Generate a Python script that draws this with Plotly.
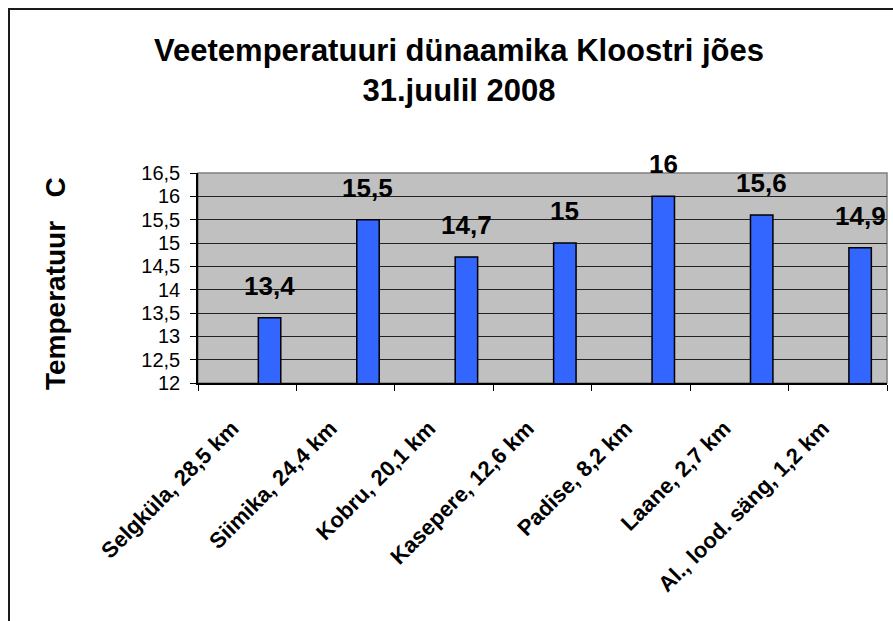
import plotly.graph_objects as go

categories = ["Selgküla, 28,5 km", "Siimika, 24,4 km", "Kobru, 20,1 km",
              "Kasepere, 12,6 km", "Padise, 8,2 km", "Laane, 2,7 km",
              "Al., lood. säng, 1,2 km"]
temperatures = [13.4, 15.5, 14.7, 15.0, 16.0, 15.6, 14.9]
y_ticks = [12, 12.5, 13, 13.5, 14, 14.5, 15, 15.5, 16, 16.5]

FONT = "Liberation Sans, Arial, sans-serif"
BAR_W = 0.228
BAR_OFF = 0.113

FIG_W, FIG_H = 893, 621
PLOT_L, PLOT_R, PLOT_T, PLOT_B = 198, 887, 173, 383  # pixels
PW, PH = PLOT_R - PLOT_L, PLOT_B - PLOT_T


def fmt(v):
    return ("%g" % v).replace(".", ",")


fig = go.Figure()
fig.add_trace(go.Bar(
    x=categories, y=temperatures,
    width=BAR_W, offset=BAR_OFF,
    marker=dict(color="#3366FF", line=dict(color="#000000", width=1.5)),
    hoverinfo="x+y",
))

annotations = []
for i, v in enumerate(temperatures):
    annotations.append(dict(
        x=i + BAR_OFF + BAR_W / 2, y=v, xref="x", yref="y",
        text="<b>%s</b>" % fmt(v), showarrow=False,
        yanchor="bottom", xanchor="center", yshift=15,
        font=dict(family=FONT, size=26, color="#000000"),
    ))

annotations.append(dict(
    x=(55 - PLOT_L) / PW, y=(PLOT_B - 284) / PH, xref="paper", yref="paper",
    text="<b>Temperatuur\u00a0\u00a0\u00a0C</b>", textangle=-90, showarrow=False,
    xanchor="center", yanchor="middle",
    font=dict(family=FONT, size=28, color="#000000"),
))

fig.update_layout(
    width=FIG_W, height=FIG_H,
    margin=dict(l=PLOT_L, r=FIG_W - PLOT_R, t=PLOT_T, b=FIG_H - PLOT_B),
    paper_bgcolor="#FFFFFF",
    plot_bgcolor="#C0C0C0",
    separators=", ",
    showlegend=False,
    title=dict(
        text="<b>Veetemperatuuri dünaamika Kloostri jões<br>31.juulil 2008</b>",
        x=459 / FIG_W, xanchor="center", xref="container",
        y=1 - 61 / FIG_H, yanchor="middle", yref="container",
        font=dict(family=FONT, size=31, color="#000000"),
    ),
    xaxis=dict(
        type="category", tickson="boundaries",
        range=[-0.5, len(categories) - 0.5],
        showgrid=False, showline=True, linecolor="#000000", linewidth=1.5,
        ticks="outside", ticklen=6, tickcolor="#000000", tickwidth=1,
        tickangle=-45, ticklabelstandoff=22, ticklabelshift=-15,
        tickfont=dict(family=FONT, size=22, color="#000000", weight="bold"),
    ),
    yaxis=dict(
        range=[12, 16.5], tickvals=y_ticks,
        showgrid=True, gridcolor="#222222", gridwidth=1.2,
        showline=True, linecolor="#000000", linewidth=1.5,
        ticks="outside", ticklen=6, tickcolor="#000000", tickwidth=1,
        ticklabelstandoff=6,
        tickfont=dict(family=FONT, size=20, color="#000000"),
        zeroline=False,
    ),
    annotations=annotations,
    shapes=[
        dict(type="rect", xref="paper", yref="paper", x0=0, x1=1, y0=0, y1=1,
             line=dict(color="#808080", width=1.5), layer="below"),
        dict(type="rect", xref="paper", yref="paper",
             x0=(9 - PLOT_L) / PW, x1=1.2, y0=-1.5, y1=(PLOT_B - 9) / PH,
             line=dict(color="#1a1a1a", width=2), layer="below"),
    ],
)

fig.write_html(
    "out.html",
    config={"displayModeBar": False},
    post_script="document.body.style.margin='0';document.body.style.overflow='hidden';",
)
